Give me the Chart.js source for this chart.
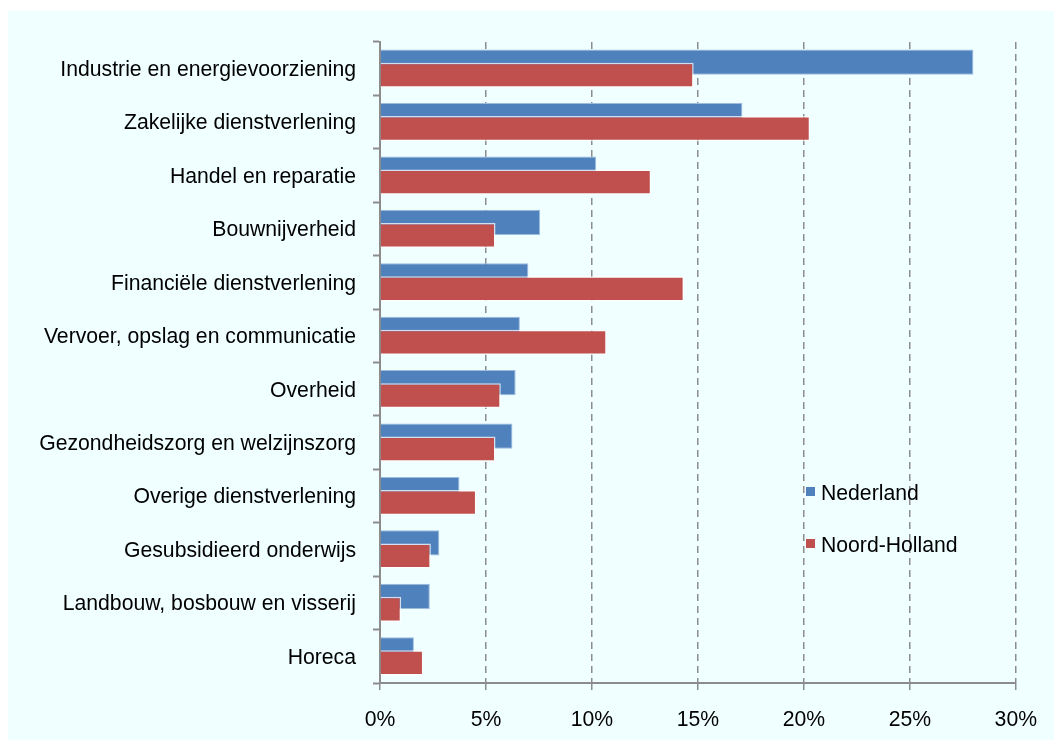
<!DOCTYPE html>
<html>
<head>
<meta charset="utf-8">
<script src="https://cdn.jsdelivr.net/npm/chart.js@4"></script>
<style>
  html, body { margin: 0; padding: 0; background: #fff; }
  #wrap { position: relative; width: 1054px; height: 740px; overflow: hidden; }
  #bg { position: absolute; left: 8px; top: 11px; right: 0; bottom: 0; background: #F0FFFF; }
  #myChart { position: absolute; left: 0; top: 0; }
  .legend-item { position: absolute; left: 806px; height: 26px; line-height: 26px;
    font-family: "Liberation Sans", Arial, sans-serif; font-size: 21.2px; color: #000; white-space: nowrap; }
  .legend-item span { display: inline-block; width: 9px; height: 9px; margin-right: 6px; vertical-align: 4px; }
</style>
</head>
<body>
<div id="wrap">
  <div id="bg"></div>
  <canvas id="myChart" width="1054" height="740"></canvas>
  <div id="legend"></div>
</div>
<script>
var categories = [
    'Industrie en energievoorziening',
    'Zakelijke dienstverlening',
    'Handel en reparatie',
    'Bouwnijverheid',
    'Financiële dienstverlening',
    'Vervoer, opslag en communicatie',
    'Overheid',
    'Gezondheidszorg en welzijnszorg',
    'Overige dienstverlening',
    'Gesubsidieerd onderwijs',
    'Landbouw, bosbouw en visserij',
    'Horeca'
];
var nederland    = [28.0, 17.1, 10.2, 7.55, 7.0, 6.6, 6.4, 6.25, 3.75, 2.8, 2.35, 1.6];
var noordHolland = [14.8, 20.3, 12.8, 5.45, 14.35, 10.7, 5.7, 5.45, 4.55, 2.4, 1.0, 2.05];
var xTicks = [0, 5, 10, 15, 20, 25, 30];

var blue = '#4F81BD';
var red = '#C0504D';
var font = { family: '"Liberation Sans", Arial, sans-serif', size: 21.2 };

var ctx = document.getElementById('myChart').getContext('2d');
var chart = new Chart(ctx, {
    type: 'bar',
    data: {
        labels: categories,
        datasets: [
            // empty helper: keeps Nederland in the upper slot while Noord-Holland is drawn on top
            { label: '', data: [], stack: 'nl', order: -1 },
            {
                label: 'Nederland',
                data: nederland,
                stack: 'nl',
                order: 1,
                backgroundColor: blue,
                borderColor: '#9DBBE0',
                borderWidth: 1
            },
            {
                label: 'Noord-Holland',
                data: noordHolland,
                stack: 'nh',
                order: 0,
                backgroundColor: red,
                borderColor: 'rgba(255,255,255,0.75)',
                borderWidth: 1.5
            }
        ]
    },
    options: {
        indexAxis: 'y',
        responsive: false,
        animation: false,
        devicePixelRatio: 1,
        categoryPercentage: 0.49,
        barPercentage: 1.92,
        layout: { padding: { top: 42, right: 38, bottom: 0, left: 0 } },
        plugins: { legend: { display: false }, tooltip: { enabled: false } },
        scales: {
            x: {
                min: 0,
                max: 30,
                stacked: false,
                afterBuildTicks: function(scale) {
                    scale.ticks = xTicks.map(function(v) { return { value: v }; });
                },
                afterFit: function(scale) { scale.height = 57; },
                ticks: {
                    color: '#000',
                    font: font,
                    padding: 17,
                    maxRotation: 0,
                    callback: function(v) { return v + '%'; }
                },
                grid: {
                    color: function(c) { return c.tick && c.tick.value === 0 ? 'rgba(0,0,0,0)' : '#8C8C8C'; },
                    lineWidth: 1.5,
                    tickColor: '#8C8C8C',
                    tickWidth: 1.5,
                    tickLength: 7
                },
                border: { color: '#8C8C8C', width: 2, dash: [7, 5] }
            },
            y: {
                afterFit: function(scale) { scale.width = 380; },
                ticks: { color: '#000', font: font, padding: 17, labelOffset: 1.5 },
                grid: {
                    drawOnChartArea: false,
                    tickColor: '#8C8C8C',
                    tickWidth: 2,
                    tickLength: 7
                },
                border: { color: '#8C8C8C', width: 2 }
            }
        }
    }
});

// legend inside the plot, built from the datasets
var legendTops = [480, 532];
var legendBox = document.getElementById('legend');
chart.data.datasets.slice(1).forEach(function(ds, i) {
    var item = document.createElement('div');
    item.className = 'legend-item';
    item.style.top = legendTops[i] + 'px';
    var sw = document.createElement('span');
    sw.style.background = ds.backgroundColor;
    item.appendChild(sw);
    item.appendChild(document.createTextNode(ds.label));
    legendBox.appendChild(item);
});
</script>
</body>
</html>
